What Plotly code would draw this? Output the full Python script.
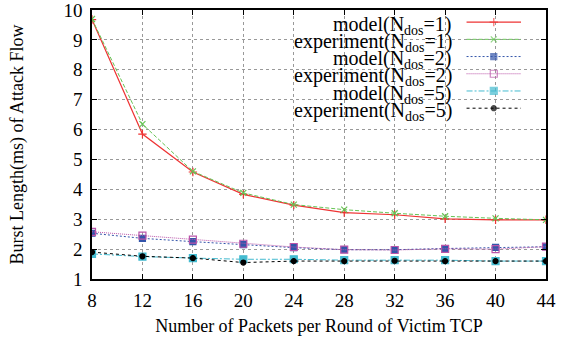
import plotly.graph_objects as go

packets = [8, 12, 16, 20, 24, 28, 32, 36, 40, 44]
model_n1 = [9.68, 5.85, 4.58, 3.83, 3.47, 3.22, 3.15, 3.01, 2.98, 2.98]
exp_n1 = [9.70, 6.18, 4.60, 3.88, 3.49, 3.32, 3.20, 3.10, 3.03, 2.98]
model_n2 = [2.53, 2.36, 2.25, 2.15, 2.05, 1.98, 1.98, 2.02, 2.06, 2.08]
exp_n2 = [2.58, 2.45, 2.32, 2.18, 2.07, 1.98, 1.97, 2.01, 2.00, 2.08]
model_n5 = [1.84, 1.75, 1.70, 1.66, 1.66, 1.63, 1.63, 1.63, 1.60, 1.60]
exp_n5 = [1.90, 1.76, 1.70, 1.55, 1.60, 1.60, 1.61, 1.60, 1.60, 1.60]

labels = ["model(N<sub>dos</sub>=1)", "experiment(N<sub>dos</sub>=1)",
          "model(N<sub>dos</sub>=2)", "experiment(N<sub>dos</sub>=2)",
          "model(N<sub>dos</sub>=5)", "experiment(N<sub>dos</sub>=5)"]
x_ticks = [8, 12, 16, 20, 24, 28, 32, 36, 40, 44]
y_ticks = [1, 2, 3, 4, 5, 6, 7, 8, 9, 10]

series = [model_n1, exp_n1, model_n2, exp_n2, model_n5, exp_n5]
styles = [
    dict(color="#ee3333", dash="solid", symbol="cross-thin", size=6, lw=1.2),
    dict(color="#66c455", dash="4px,2px", symbol="x-thin", size=6, lw=1.0),
    dict(color="#3355aa", dash="2px,2px", symbol="square", size=6, lw=1.0),
    dict(color="#bb55aa", dash="1px,1px", symbol="square-open", size=7, lw=1.0),
    dict(color="#44bbd0", dash="6px,2px,2px,2px", symbol="square", size=7, lw=1.0),
    dict(color="#000000", dash="3px,3px", symbol="circle", size=5, lw=1.0),
]

FONT = "Liberation Serif"
fig = go.Figure()
for vals, st, lab in zip(series, styles, labels):
    fig.add_trace(go.Scatter(
        x=packets, y=vals, mode="lines+markers", name=lab, showlegend=False,
        line=dict(color=st["color"], dash=st["dash"], width=st["lw"]),
        marker=dict(symbol=st["symbol"], size=st["size"], color=st["color"],
                    line=dict(color=st["color"], width=1.2)),
    ))

# custom legend (text right, sample on the right as in gnuplot)
row_top = 0.955
row_step = 0.0640
text_right = 0.798
text_shift = -0.012
sx0, sxc, sx1 = 0.825, 0.885, 0.945
for i, (st, lab) in enumerate(zip(styles, labels)):
    yy = row_top - i * row_step
    fig.add_trace(go.Scatter(
        x=[sx0, sxc, sx1], y=[yy, yy, yy], mode="lines+markers", showlegend=False,
        xaxis="x2", yaxis="y2", hoverinfo="skip",
        line=dict(color=st["color"], dash=st["dash"], width=st["lw"]),
        marker=dict(symbol=st["symbol"], size=[0, st["size"], 0], color=st["color"],
                    line=dict(color=st["color"], width=1.2)),
    ))
    fig.add_annotation(x=text_right, y=yy + text_shift, xref="x2", yref="y2", text=lab,
                       showarrow=False, xanchor="right", yanchor="middle",
                       font=dict(family=FONT, size=20, color="black"))

axis_common = dict(showline=True, linecolor="black", linewidth=1.5, mirror="ticks",
                   ticks="inside", ticklen=5, tickcolor="black", automargin=False,
                   ticklabeloverflow="allow",
                   showgrid=True, gridcolor="#999999", griddash="dot", gridwidth=1,
                   zeroline=False, tickfont=dict(family=FONT, size=19, color="black"))

fig.update_layout(
    width=571, height=337,
    margin=dict(l=92, r=25, t=10, b=58),
    paper_bgcolor="white", plot_bgcolor="white",
    font=dict(family=FONT, color="black"),
    xaxis=dict(range=[8, 44], tickvals=x_ticks, **axis_common, ticklabelstandoff=3,
               title=dict(text="Number of Packets per Round of Victim TCP",
                          font=dict(family=FONT, size=18), standoff=10)),
    yaxis=dict(range=[1, 10], tickvals=y_ticks, **axis_common, ticklabelstandoff=4,
               title=dict(text="Burst Length(ms) of Attack Flow",
                          font=dict(family=FONT, size=18), standoff=35)),
    xaxis2=dict(range=[0, 1], overlaying="x", visible=False, fixedrange=True),
    yaxis2=dict(range=[0, 1], overlaying="y", visible=False, fixedrange=True),
    showlegend=False,
)
fig.write_html("out.html", config={"displayModeBar": False},
               post_script="document.body.style.margin='0px';")
